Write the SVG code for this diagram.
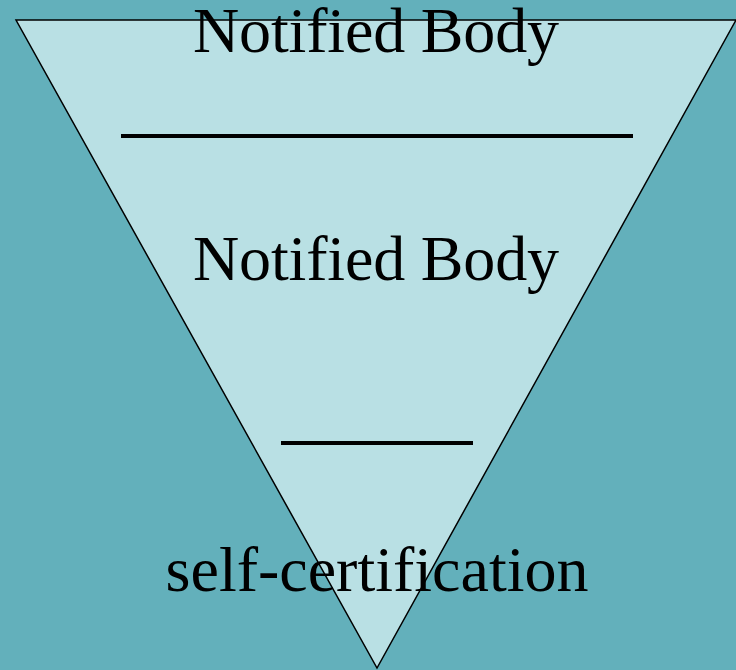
<svg xmlns="http://www.w3.org/2000/svg" width="736" height="670" viewBox="0 0 736 670">
<style>
.t{font-family:"Liberation Serif","Times New Roman",serif;font-size:64px;fill:#000}
.rule{stroke:#000;stroke-width:4}
</style>
<rect width="736" height="670" fill="#63B0BB"/>
<g id="pyramid">
<polygon points="16,20 736,20 377,668" fill="#B9E0E4" stroke="#000" stroke-width="1.5"/>
</g>
<g id="connectors">
<line class="rule" x1="121" y1="136" x2="633" y2="136"/>
<line class="rule" x1="281" y1="443" x2="473" y2="443"/>
</g>
<g id="label-top"><text class="t" x="193" y="52" textLength="366" lengthAdjust="spacing">Notified Body</text></g>
<g id="label-mid"><text class="t" x="193" y="280" textLength="366" lengthAdjust="spacing">Notified Body</text></g>
<g id="label-bottom"><text class="t" x="377" y="591" text-anchor="middle">self-certification</text></g>
</svg>
